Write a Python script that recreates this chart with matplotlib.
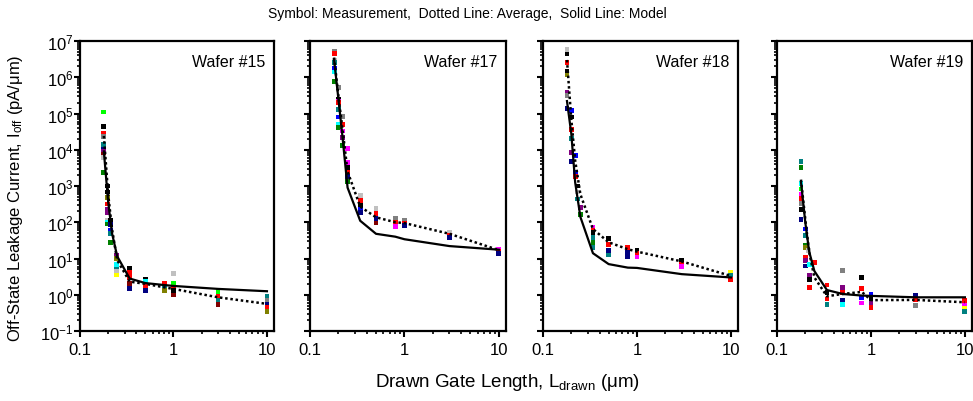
import numpy as np
import matplotlib
matplotlib.use('Agg')
import matplotlib.pyplot as plt
from matplotlib.ticker import FixedLocator, FixedFormatter, LogLocator, NullFormatter

plt.rcParams['font.family'] = ['Liberation Sans', 'DejaVu Sans']
plt.rcParams['mathtext.fontset'] = 'custom'
plt.rcParams['mathtext.rm'] = 'Liberation Sans'
plt.rcParams['mathtext.it'] = 'Liberation Sans:italic'

# excel-ish palette used for the measurement symbols
pal = {'k': '#000000', 'r': '#FF0000', 'lime': '#00FF00', 'b': '#0000FF', 'y': '#FFFF00',
       'm': '#FF00FF', 'c': '#00FFFF', 'dr': '#800000', 'dg': '#008000', 'nv': '#000080',
       'ol': '#808000', 'pu': '#800080', 'te': '#008080', 'gy': '#808080', 'si': '#C0C0C0'}

wafers = ['Wafer #15', 'Wafer #17', 'Wafer #18', 'Wafer #19']
L_line = [0.18, 0.2, 0.22, 0.25, 0.34, 0.5, 0.8, 1.0, 3.0, 10.0]

# solid line: model
w15_model = [9e3, 370, 50, 11.5, 2.8, 2.1, 1.85, 1.75, 1.45, 1.25]
w17_model = [3e6, 2.5e5, 2.5e4, 900, 110, 48, 40, 34, 22, 17.5]
w18_model = [2.2e5, 2.8e4, 1.26e3, 140, 14, 7, 5.6, 5.5, 3.7, 3.0]
w19_model = [1.3e3, 100, 15.5, 4.5, 1.35, 1.05, 0.95, 0.93, 0.85, 0.85]

# dotted line: average
w15_avg = [2.4e4, 600, 65, 9, 2.3, 2.0, 1.6, 1.45, 0.85, 0.56]
w17_avg = [3.5e6, 3e5, 4e4, 2.5e3, 270, 137, 100, 95, 48, 17]
w18_avg = [3e6, 7e4, 5e3, 590, 65, 28, 18, 15.5, 8.3, 3.3]
w19_avg = [1.5e3, 120, 15, 3, 0.91, 1.05, 1.2, 0.71, 0.72, 0.62]

# symbols: measurements (x, value, colour)
w15_x = [0.18] * 10 + [0.195] * 9 + [0.21] * 5 + [0.245] * 6 + [0.34] * 5 + [0.5] * 4 + [0.8] * 4 + [1.0] * 5 + [3.0] * 4 + [10.0] * 5
w15_y = [1.1e5, 4.4e4, 2.8e4, 2.3e4, 1.4e4, 1.05e4, 9e3, 7.6e3, 6.2e3, 2.4e3,
         1e3, 680, 490, 320, 230, 190, 110, 100, 89,
         110, 85, 60, 48, 28,
         12, 10, 7, 5.1, 4.4, 3.5,
         5.4, 4.1, 3.0, 2.0, 1.45,
         2.7, 2.3, 1.8, 1.3,
         2.1, 1.8, 1.5, 1.3,
         3.9, 2.0, 1.6, 1.3, 0.98,
         1.2, 0.91, 0.69, 0.54,
         0.91, 0.69, 0.55, 0.45, 0.34]
w15_c = ['lime', 'k', 'r', 'gy', 'te', 'nv', 'pu', 'dr', 'si', 'dg',
         'k', 'k', 'ol', 'r', 'pu', 'pu', 'si', 'c', 'dg',
         'k', 'nv', 'b', 'te', 'dg',
         'pu', 'ol', 'c', 'te', 'si', 'y',
         'k', 'r', 'r', 'dr', 'nv',
         'k', 'c', 'r', 'nv',
         'r', 'r', 'te', 'ol',
         'si', 'lime', 'r', 'k', 'dr',
         'lime', 'r', 'te', 'dr',
         'te', 'gy', 'nv', 'r', 'ol']

w17_x = [0.18] * 7 + [0.2] * 8 + [0.22] * 5 + [0.25] * 6 + [0.34] * 5 + [0.5] * 4 + [0.8] * 3 + [1.0] * 3 + [3.0] * 3 + [10.0] * 3
w17_y = [5.2e6, 4.5e6, 2.9e6, 2.5e6, 1.7e6, 1.4e6, 7.6e5,
         5.2e5, 2.5e5, 2.2e5, 2e5, 1.3e5, 8e4, 5e4, 4.2e4,
         8.3e4, 5e4, 3.3e4, 2.2e4, 1.3e4,
         1.1e4, 4.4e3, 3.3e3, 2.4e3, 1.8e3, 1.3e3,
         540, 400, 290, 230, 190,
         235, 170, 125, 95,
         125, 100, 76,
         110, 95, 83,
         52, 43, 38,
         18, 16, 14]
w17_c = ['gy', 'r', 'si', 'te', 'b', 'c', 'dg',
         'gy', 'k', 'm', 'r', 'te', 'b', 'c', 'dg',
         'gy', 'r', 'm', 'pu', 'dg',
         'm', 'm', 'k', 'r', 'nv', 'dg',
         'si', 'r', 'k', 'b', 'nv',
         'si', 'r', 'nv', 'dr',
         'gy', 'r', 'm',
         'gy', 'r', 'nv',
         'si', 'r', 'nv',
         'm', 'r', 'nv']

w18_x = [0.18] * 8 + [0.2] * 6 + [0.22] * 3 + [0.235] * 3 + [0.25] * 2 + [0.34] * 6 + [0.5] * 4 + [0.8] * 3 + [1.0] * 3 + [3.0] * 3 + [10.0] * 3
w18_y = [5.7e6, 4.4e6, 2.6e6, 1.45e6, 1.15e6, 3.8e5, 3.1e5, 1.4e5,
         1.2e5, 8e4, 3.7e4, 2e4, 8.5e3, 4.7e3,
         6.9e3, 2.4e3, 1.8e3,
         1e3, 680, 440,
         260, 160,
         73, 60, 53, 38, 28, 20,
         36, 24, 17, 12.5,
         20, 15, 11,
         17, 14, 11,
         8.7, 7, 5.9,
         4.2, 3.4, 2.7]
w18_c = ['si', 'k', 'r', 'k', 'ol', 'pu', 'gy', 'nv',
         'b', 'k', 'r', 'te', 'pu', 'nv',
         'b', 'b', 'r',
         'k', 'si', 'te',
         'pu', 'dg',
         'm', 'r', 'k', 'te', 'dg', 'te',
         'k', 'r', 'nv', 'te',
         'r', 'nv', 'nv',
         'k', 'r', 'm',
         'k', 'r', 'm',
         'y', 'te', 'r']

w19_x = [0.18] * 9 + [0.2] * 7 + [0.215] + [0.22] * 4 + [0.25] + [0.34] * 4 + [0.5] * 5 + [0.8] * 4 + [1.0] * 4 + [3.0] * 3 + [10.0] * 4
w19_y = [4.7e3, 3.2e3, 1.15e3, 830, 590, 460, 330, 230, 120,
         65, 43, 23, 20, 11, 8.7, 6.2,
         17,
         7, 3.4, 2.6, 1.6,
         7.6,
         1.85, 1.17, 0.76, 0.55,
         4.6, 1.6, 1.17, 0.7, 0.55,
         3.0, 1.45, 0.85, 0.59,
         1.05, 0.8, 0.59, 0.45,
         0.98, 0.74, 0.5,
         0.69, 0.52, 0.43, 0.34]
w19_c = ['te', 'dg', 'c', 'lime', 'm', 'r', 'gy', 'k', 'nv',
         'b', 'te', 'dg', 'ol', 'r', 'pu', 'nv',
         'si',
         'c', 'pu', 'k', 'r',
         'r',
         'r', 'k', 'r', 'te',
         'gy', 'pu', 'r', 'nv', 'c',
         'k', 'r', 'b', 'm',
         'b', 'k', 'pu', 'r',
         'nv', 'r', 'gy',
         'r', 'm', 'y', 'te']

meas = [(w15_x, w15_y, w15_c), (w17_x, w17_y, w17_c), (w18_x, w18_y, w18_c), (w19_x, w19_y, w19_c)]
models = [w15_model, w17_model, w18_model, w19_model]
avgs = [w15_avg, w17_avg, w18_avg, w19_avg]

W, H = 973, 402
fig = plt.figure(figsize=(W / 100, H / 100), dpi=100)
lefts = [80, 310, 543, 777]
widths = [194, 196, 195, 195]

for i in range(4):
    ax = fig.add_axes([lefts[i] / W, 1 - 332 / H, widths[i] / W, 290 / H])
    mx, my, mc = meas[i]
    ax.scatter(mx, my, c=[pal[k] for k in mc], marker='s', s=12, linewidths=0, zorder=2)
    ax.plot(L_line, avgs[i], color='black', lw=1.8, linestyle=(0, (1, 1.1)), zorder=3)
    ax.plot(L_line, models[i], color='black', lw=1.6, zorder=4)
    ax.set_xscale('log')
    ax.set_yscale('log')
    ax.set_xlim(0.1, 11.9)
    ax.set_ylim(0.1, 1e7)
    ax.xaxis.set_major_locator(FixedLocator([0.1, 1, 10]))
    ax.xaxis.set_major_formatter(FixedFormatter(['0.1', '1', '10']))
    ax.xaxis.set_minor_locator(LogLocator(base=10, subs=np.arange(2, 10), numticks=20))
    ax.xaxis.set_minor_formatter(NullFormatter())
    ax.yaxis.set_major_locator(LogLocator(base=10, numticks=20))
    ax.yaxis.set_minor_locator(LogLocator(base=10, subs=np.arange(2, 10), numticks=20))
    ax.yaxis.set_minor_formatter(NullFormatter())
    ax.tick_params(which='major', direction='out', length=4, width=1.5, labelsize=12, pad=0.5)
    ax.tick_params(axis='x', which='major', pad=4)
    ax.tick_params(which='minor', direction='out', length=2.5, width=1.2)
    if i > 0:
        ax.tick_params(axis='y', labelleft=False)
    for s in ax.spines.values():
        s.set_linewidth(1.6)
    ax.text(0.955, 0.955, wafers[i], transform=ax.transAxes, ha='right', va='top', fontsize=11.5)

fig.text(467 / W, 1 - 14 / H, 'Symbol: Measurement,  Dotted Line: Average,  Solid Line: Model',
         ha='center', va='center', fontsize=10)
fig.text(507 / W, 1 - 383 / H, 'Drawn Gate Length, L$_\\mathregular{drawn}$ (μm)',
         ha='center', va='center', fontsize=13.5)
fig.text(16 / W, 1 - 198 / H, 'Off-State Leakage Current, I$_\\mathregular{off}$ (pA/μm)',
         ha='center', va='center', rotation=90, fontsize=12)

fig.savefig('out.png', dpi=100)
